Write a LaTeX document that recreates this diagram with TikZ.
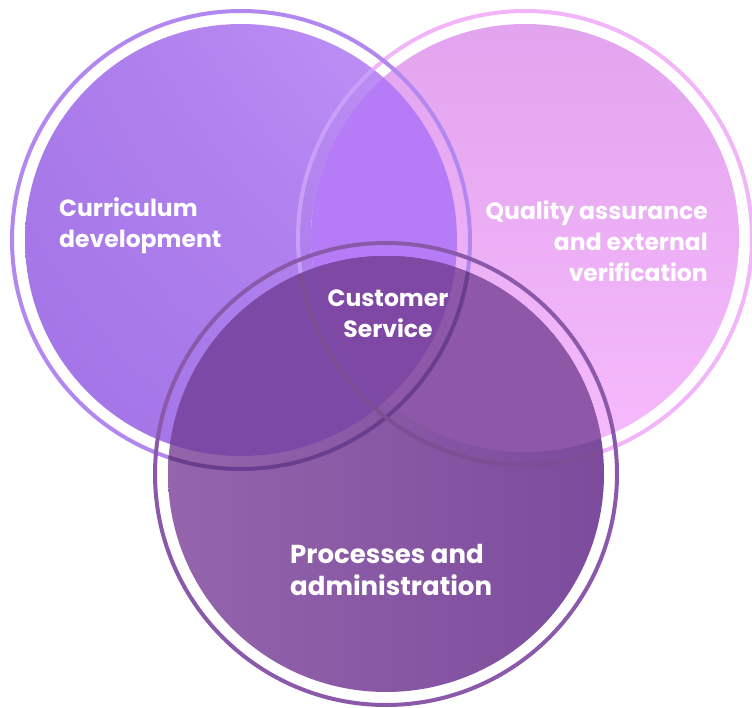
\documentclass[tikz,border=0pt]{standalone}
\usepackage{fontspec}
\setmainfont{Poppins}
\usetikzlibrary{shadings}
\definecolor{leftul}{HTML}{AA7BEA}
\definecolor{leftur}{HTML}{C294F8}
\definecolor{leftll}{HTML}{A273E5}
\definecolor{leftlr}{HTML}{AA7BEC}
\definecolor{leftring}{HTML}{B387F0}
\definecolor{righttop}{HTML}{E2A4EE}
\definecolor{rightbot}{HTML}{F6BAFC}
\definecolor{rightring}{HTML}{F2B5FA}
\definecolor{lrfill}{HTML}{B67BF6}
\definecolor{botleft}{HTML}{9465AC}
\definecolor{botmid}{HTML}{83519F}
\definecolor{botright}{HTML}{7C4B9D}
\definecolor{botring}{HTML}{8A59AA}
\definecolor{blfill}{HTML}{7D49A7}
\definecolor{brfill}{HTML}{8F57A7}
\definecolor{blrfill}{HTML}{7E48A4}
\tikzset{
	ringline/.style={line width=4pt},
	lbl/.style={text=white, inner sep=0pt, font=\bfseries\fontsize{23.5}{31}\selectfont},
	biglbl/.style={lbl, font=\bfseries\fontsize{26}{32}\selectfont}
}
\begin{document}
\begin{tikzpicture}[x=1pt,y=-1pt]
	\useasboundingbox (0,0) rectangle (752,708);
	\coordinate (cl) at (241,240);
	\coordinate (cr) at (525,238);
	\coordinate (cb) at (386,474);
	
	% upper circles
	\shade[upper left=leftul,upper right=leftur,lower left=leftll,lower right=leftlr] 
	(cl) circle[radius=216];
	\shade[top color=righttop,bottom color=rightbot] (cr) circle[radius=214];
	\begin{scope}
		\clip (cl) circle[radius=216];
		\fill[lrfill] (cr) circle[radius=214];
		\draw[ringline, draw=leftur!90!white] (cr) circle[radius=227];
	\end{scope}
	\begin{scope}[even odd rule]
		\clip (cl) circle[radius=216] (-10,-10) rectangle (762,718);
		\draw[ringline, rightring] (cr) circle[radius=227];
	\end{scope}
	\draw[ringline, leftring] (cl) circle[radius=229];
	
	% lower circle
	\shade[left color=botleft,middle color=botmid,right color=botright] (cb) circle[radius=218];
	\begin{scope}
		\clip (cb) circle[radius=218];
		\fill[blfill] (cl) circle[radius=216];
		\fill[brfill] (cr) circle[radius=214];
		\draw[ringline, draw=blfill!85!black] (cl) circle[radius=229];
		\draw[ringline, draw=brfill!88!black] (cr) circle[radius=227];
		\clip (cl) circle[radius=216];
		\fill[blrfill] (cr) circle[radius=214];
	\end{scope}
	\draw[ringline, botring] (cb) circle[radius=231];
	
	\node[lbl, align=left, anchor=west] (curr) at (59,226) {Curriculum\\development};
	\node[lbl, align=right, anchor=east] (qual) at (708,241) {Quality assurance\\and external\\verification};
	\node[lbl, align=center] (cust) at (388,314) {Customer\\Service};
	\node[biglbl, align=left, anchor=west] (proc) at (290,570) {Processes and\\administration};
\end{tikzpicture}
\end{document}
